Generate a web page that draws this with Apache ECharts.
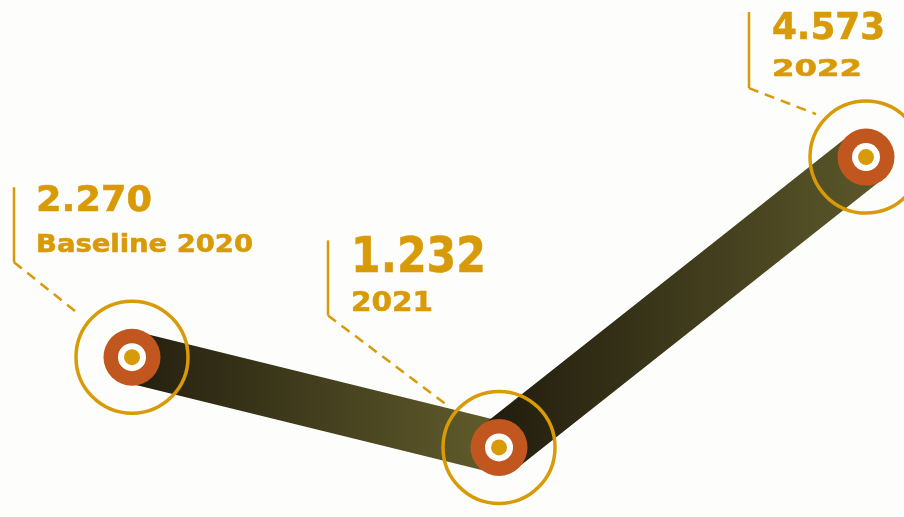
<!DOCTYPE html>
<html>
<head>
<meta charset="utf-8">
<script src="https://cdn.jsdelivr.net/npm/echarts@6/dist/echarts.min.js"></script>
<style>
html,body{margin:0;padding:0;background:#fdfdfb;}
#chart{width:904px;height:517px;}
</style>
</head>
<body>
<div id="chart"></div>
<script>
// ---- data ----
const categories = ['Baseline 2020', '2021', '2022'];
const values = [2.270, 1.232, 4.573];
const valueLabels = ['2.270', '1.232', '4.573'];

// ---- styling (per point label layout, offsets in px from the point) ----
const GOLD = '#d99a08';
const ORANGE = '#c2561f';
const FONT = '"DejaVu Sans", sans-serif';
const layout = [
  { lineX: -118, lineTop: -170, kink: -95, dashEnd: [-53, -43], textX: -96,
    valY: -156, valSize: 36, valW: 116, subY: -112, subSize: 25, subW: 217 },
  { lineX: -171, lineTop: -207, kink: -132, dashEnd: [-53, -43], textX: -148,
    valY: -188, valSize: 50, valW: 135, subY: -143, subSize: 27, subW: 82 },
  { lineX: -117, lineTop: -145, kink: -69, dashEnd: [-50, -43], textX: -94,
    valY: -128, valSize: 38, valW: 113, subY: -87, subSize: 23, subW: 90 }
];

const measureCtx = document.createElement('canvas').getContext('2d');
function widthScale(text, size, target) {
  measureCtx.font = 'bold ' + size + 'px ' + FONT;
  const w = measureCtx.measureText(text).width;
  return w > 0 ? target / w : 1;
}

const seg1 = values.map((v, i) => (i <= 1 ? v : '-'));
const seg2 = values.map((v, i) => (i >= 1 ? v : '-'));

const chart = echarts.init(document.getElementById('chart'), null, { renderer: 'canvas' });

function band(data, width, c0, c1) {
  return {
    type: 'line',
    data: data,
    showSymbol: false,
    symbol: 'none',
    silent: true,
    animation: false,
    z: 2,
    lineStyle: {
      width: width,
      cap: 'round',
      join: 'round',
      color: new echarts.graphic.LinearGradient(0, 0, 1, 0, [
        { offset: 0, color: c0 },
        { offset: 1, color: c1 }
      ])
    }
  };
}

function label(text, x, y, size, target) {
  return {
    type: 'text',
    x: x, y: y,
    scaleX: widthScale(text, size, target),
    style: { text: text, x: 0, y: 0, fill: GOLD, stroke: GOLD, lineWidth: 0.6,
      font: 'bold ' + size + 'px ' + FONT, textAlign: 'left', textVerticalAlign: 'middle' }
  };
}

const option = {
  backgroundColor: '#fdfdfb',
  animation: false,
  grid: { left: 132, right: 38, top: 120, bottom: 6 },
  xAxis: { type: 'category', data: categories, boundaryGap: false, show: false },
  yAxis: { type: 'value', min: 0.5, max: 5, show: false },
  series: [
    band(seg1, 52, '#1f1b0d', '#66612e'),
    band(seg2, 55, '#1e1a0c', '#5e5a2b'),
    {
      type: 'custom',
      z: 5,
      clip: false,
      silent: true,
      data: values.map((v, i) => [i, v]),
      renderItem: function (params, api) {
        const i = params.dataIndex;
        const p = api.coord([api.value(0), api.value(1)]);
        const L = layout[i];
        const x = p[0], y = p[1];
        return {
          type: 'group',
          children: [
            { type: 'polyline', shape: { points: [[x + L.lineX, y + L.lineTop], [x + L.lineX, y + L.kink]] },
              style: { stroke: GOLD, lineWidth: 2.5, fill: null } },
            { type: 'polyline', shape: { points: [[x + L.lineX, y + L.kink], [x + L.dashEnd[0], y + L.dashEnd[1]]] },
              style: { stroke: GOLD, lineWidth: 2.5, fill: null, lineDash: [10, 7] } },
            { type: 'circle', shape: { cx: x, cy: y, r: 56 }, style: { fill: null, stroke: GOLD, lineWidth: 3.5 } },
            { type: 'circle', shape: { cx: x, cy: y, r: 28.5 }, style: { fill: ORANGE } },
            { type: 'circle', shape: { cx: x, cy: y, r: 14 }, style: { fill: '#ffffff' } },
            { type: 'circle', shape: { cx: x, cy: y, r: 8 }, style: { fill: GOLD } },
            label(valueLabels[i], x + L.textX, y + L.valY, L.valSize, L.valW),
            label(categories[i], x + L.textX, y + L.subY, L.subSize, L.subW)
          ]
        };
      }
    }
  ]
};
chart.setOption(option);
</script>
</body>
</html>
